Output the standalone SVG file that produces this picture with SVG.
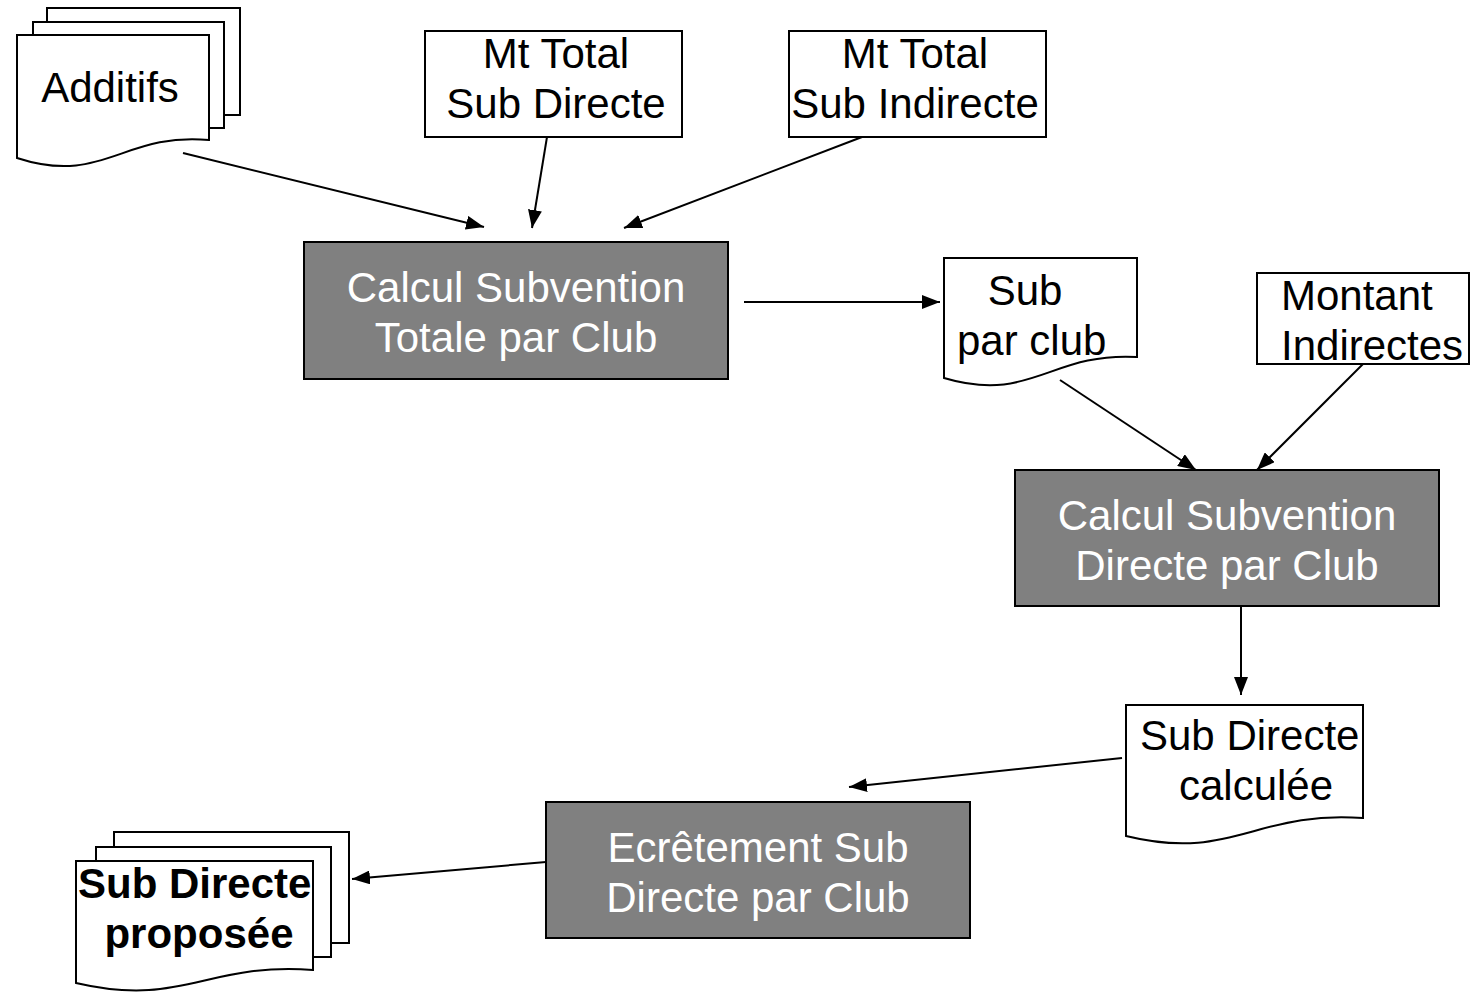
<svg xmlns="http://www.w3.org/2000/svg" width="1473" height="997" viewBox="0 0 1473 997">
<defs>
<marker id="ah" markerUnits="userSpaceOnUse" markerWidth="20" markerHeight="14" refX="18" refY="7" orient="auto">
<path d="M0,0 L18,7 L0,14 Z" fill="#000"/>
</marker>
<style>
.doc{fill:#fff;stroke:#000;stroke-width:2}
.box{fill:#fff;stroke:#000;stroke-width:2}
.proc{fill:#808080;stroke:#000;stroke-width:2}
.t{font-family:"Liberation Sans",Arial,sans-serif;font-size:42px;fill:#000}
.w{fill:#fff}
.b{font-weight:bold}
.c{stroke:#000;stroke-width:2;fill:none;marker-end:url(#ah)}
</style>
</defs>
<rect width="1473" height="997" fill="#fff"/>

<g id="additifs">
<rect class="doc" x="47" y="8" width="193" height="107"/>
<rect class="doc" x="33" y="22" width="191" height="106"/>
<path class="doc" d="M17,35 H209 V140 C123,132 103,186 17,158 Z"/>
<text class="t" x="110" y="102" text-anchor="middle">Additifs</text>
</g>

<g id="mt-total-directe">
<rect class="box" x="425" y="31" width="257" height="106"/>
<text class="t" x="556" y="68" text-anchor="middle">Mt Total</text>
<text class="t" x="556" y="118" text-anchor="middle">Sub Directe</text>
</g>

<g id="mt-total-indirecte">
<rect class="box" x="789" y="31" width="257" height="106"/>
<text class="t" x="915" y="68" text-anchor="middle">Mt Total</text>
<text class="t" x="915" y="118" text-anchor="middle">Sub Indirecte</text>
</g>

<g id="calcul-totale">
<rect class="proc" x="304" y="242" width="424" height="137"/>
<text class="t w" x="516" y="302" text-anchor="middle">Calcul Subvention</text>
<text class="t w" x="516" y="352" text-anchor="middle">Totale par Club</text>
</g>

<g id="sub-par-club">
<path class="doc" d="M944,258 H1137 V357 C1050,352 1031,404 944,378 Z"/>
<text class="t" x="1025" y="305" text-anchor="middle">Sub</text>
<text class="t" x="957" y="355">par club</text>
</g>

<g id="montant-indirectes">
<rect class="box" x="1257" y="273" width="212" height="91"/>
<text class="t" x="1281" y="310">Montant</text>
<text class="t" x="1281" y="360">Indirectes</text>
</g>

<g id="calcul-directe">
<rect class="proc" x="1015" y="470" width="424" height="136"/>
<text class="t w" x="1227" y="530" text-anchor="middle">Calcul Subvention</text>
<text class="t w" x="1227" y="580" text-anchor="middle">Directe par Club</text>
</g>

<g id="sub-directe-calculee">
<path class="doc" d="M1126,705 H1363 V818 C1256,810 1232,862 1126,836 Z"/>
<text class="t" x="1140" y="750">Sub Directe</text>
<text class="t" x="1256" y="800" text-anchor="middle">calculée</text>
</g>

<g id="ecretement">
<rect class="proc" x="546" y="802" width="424" height="136"/>
<text class="t w" x="758" y="862" text-anchor="middle">Ecrêtement Sub</text>
<text class="t w" x="758" y="912" text-anchor="middle">Directe par Club</text>
</g>

<g id="sub-directe-proposee">
<rect class="doc" x="114" y="832" width="235" height="111"/>
<rect class="doc" x="96" y="847" width="235" height="110"/>
<path class="doc" d="M76,861 H313 V970 C206,962 183,1008 76,983 Z"/>
<text class="t b" x="78" y="898">Sub Directe</text>
<text class="t b" x="199" y="948" text-anchor="middle">proposée</text>
</g>

<g id="connectors">
<line class="c" x1="183" y1="153" x2="484" y2="227"/>
<line class="c" x1="547" y1="137" x2="532" y2="228"/>
<line class="c" x1="862" y1="137" x2="624" y2="228"/>
<line class="c" x1="744" y1="302" x2="940" y2="302"/>
<line class="c" x1="1060" y1="380" x2="1196" y2="470"/>
<line class="c" x1="1363" y1="364" x2="1257" y2="470"/>
<line class="c" x1="1241" y1="606" x2="1241" y2="695"/>
<line class="c" x1="1122" y1="758" x2="849" y2="787"/>
<line class="c" x1="546" y1="862" x2="352" y2="879"/>
</g>
</svg>
